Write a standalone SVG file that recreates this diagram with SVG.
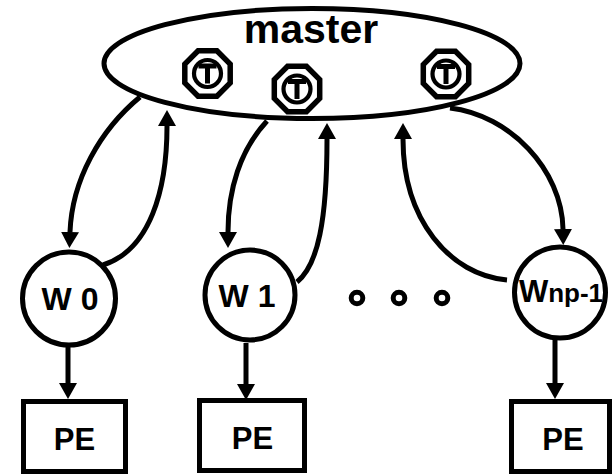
<svg xmlns="http://www.w3.org/2000/svg" width="612" height="475" viewBox="0 0 612 475">
<defs>
<style>
.s{fill:#fff;stroke:#000;stroke-width:5}
.c{fill:none;stroke:#000;stroke-width:5}
.t{font-family:"Liberation Sans",Arial,sans-serif;font-weight:bold;fill:#000;text-anchor:middle}
.tk{fill:#fff;stroke:#000}
</style>
<marker id="ah" markerUnits="userSpaceOnUse" markerWidth="17" markerHeight="20" viewBox="0 -10 17 20" refX="0" refY="0" orient="auto">
<path d="M0,-9 L16,0 L0,9 z" fill="#000"/>
</marker>
<g id="tok">
<polygon class="tk" stroke-width="5.5" points="22.7,-9.4 22.7,9.4 9.4,22.7 -9.4,22.7 -22.7,9.4 -22.7,-9.4 -9.4,-22.7 9.4,-22.7"/>
<circle class="tk" stroke-width="4.2" r="13.5"/>
<path d="M-9,-7.5 H9 M0,-7.5 V10" stroke="#000" stroke-width="5" fill="none"/>
</g>
</defs>
<rect width="612" height="475" fill="#fff"/>
<g id="master">
<ellipse class="s" cx="312" cy="63.5" rx="208" ry="55"/>
<text class="t" x="311" y="43" font-size="41">master</text>
<use href="#tok" x="207.5" y="73.5"/>
<use href="#tok" x="297" y="89"/>
<use href="#tok" x="446" y="74"/>
</g>
<g id="connectors">
<path class="c" marker-end="url(#ah)" d="M140,97 C100,130 72,180 70,232"/>
<path class="c" marker-end="url(#ah)" d="M103,265 C150,250 167,190 167,126"/>
<path class="c" marker-end="url(#ah)" d="M267,121 C240,150 228,190 228,232"/>
<path class="c" marker-end="url(#ah)" d="M297,282 C318,265 327,220 327,139"/>
<path class="c" marker-end="url(#ah)" d="M507,280 C450,275 403,220 403,139"/>
<path class="c" marker-end="url(#ah)" d="M450,108 C510,115 562,170 563,229"/>
<path class="c" marker-end="url(#ah)" d="M68,346 L68,383"/>
<path class="c" marker-end="url(#ah)" d="M246,343 L246,384"/>
<path class="c" marker-end="url(#ah)" d="M555,340 L555,383"/>
</g>
<g id="w0">
<circle class="s" cx="69" cy="298.5" r="46.5"/>
<text class="t" x="70" y="310" font-size="32">W 0</text>
</g>
<g id="w1">
<circle class="s" cx="250" cy="295" r="45"/>
<text class="t" x="247" y="307" font-size="32">W 1</text>
</g>
<g id="wnp">
<circle class="s" cx="560" cy="292.5" r="45.5"/>
<text class="t" x="561" y="302"><tspan font-size="31">W</tspan><tspan font-size="26">np-1</tspan></text>
</g>
<g id="dots">
<circle class="c" cx="357" cy="298" r="5.8"/>
<circle class="c" cx="399" cy="298" r="5.8"/>
<circle class="c" cx="442" cy="298" r="5.8"/>
</g>
<g id="pe0">
<rect class="s" x="23.5" y="401.5" width="102" height="70"/>
<text class="t" x="74.5" y="450" font-size="31">PE</text>
</g>
<g id="pe1">
<rect class="s" x="199.5" y="400.5" width="105" height="70"/>
<text class="t" x="252.5" y="449" font-size="31">PE</text>
</g>
<g id="pe2">
<rect class="s" x="511.5" y="401.5" width="98" height="70"/>
<text class="t" x="563" y="450" font-size="31">PE</text>
</g>
</svg>
